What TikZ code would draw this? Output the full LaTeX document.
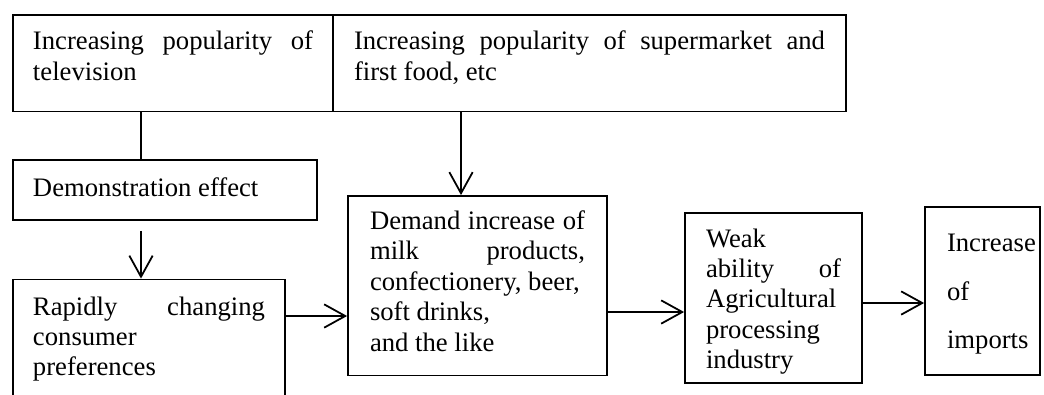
\documentclass[tikz,border=0pt]{standalone}
\usepackage{fontspec}
\setmainfont{Liberation Serif}
\usepackage{tikz}
\usetikzlibrary{arrows.meta}
\hfuzz=40pt
\hbadness=10000

\begin{document}
\begin{tikzpicture}[x=0.45pt, y=-0.45pt, line width=0.8pt,
    >={Straight Barb[length=9.5pt,width=10.5pt]},
    every node/.style={draw, inner ysep=0pt, align=justify,
      font=\fontsize{12pt}{13.7pt}\selectfont}]
     \path[use as bounding box, clip] (0,0) rectangle (1044,394);

     \node[text width=126pt, inner xsep=9pt, text height=15.75pt, text depth=27.7pt] (A) at (173,63.25) {Increasing popularity of\linebreak television};
     \node[text width=211.95pt, inner xsep=9.45pt, text height=15.75pt, text depth=27.7pt] (B) at (589.5,63.25) {Increasing popularity of supermarket and\linebreak first food, etc};
     \node[text width=118.8pt, inner xsep=9pt, text height=16.2pt, text depth=10.8pt] (C) at (165,190) {Demonstration effect};
     \node[text width=104.4pt, inner xsep=9pt, text height=16pt, text depth=51.75pt] (D) at (149,354.75) {Rapidly changing\linebreak consumer\\preferences};
     \node[text width=96.75pt, inner xsep=9.9pt, text height=15.1pt, text depth=65.7pt] (E) at (477.5,285.75) {Demand increase of\linebreak milk products,\linebreak confectionery, beer,\\soft drinks,\\and the like};
     \node[text width=60.75pt, inner xsep=9.45pt, text height=15.3pt, text depth=61.2pt] (F) at (773.5,298) {Weak\\ability of\linebreak Agricultural\\processing\\industry};
     \node[text width=31.95pt, inner xsep=9.9pt, text height=20.1pt, text depth=55.5pt, align=left,
       font=\fontsize{12pt}{21.8pt}\selectfont] (G) at (982.5,291) {Increase\\of\\imports};

     \draw (A.south -| 141,0) -- (C.north -| 141,0);
     \draw[->, shorten <=4.5pt] (C.south -| 141,0) -- (D.north -| 141,0);
     \draw[->] (B.south -| 461,0) -- (E.north -| 461,0);
     \draw[->] (D.east |- 0,316) -- (E.west |- 0,316);
     \draw[->] (E.east |- 0,312) -- (F.west |- 0,312);
     \draw[->] (F.east |- 0,303) -- (G.west |- 0,303);
\end{tikzpicture}
\end{document}
